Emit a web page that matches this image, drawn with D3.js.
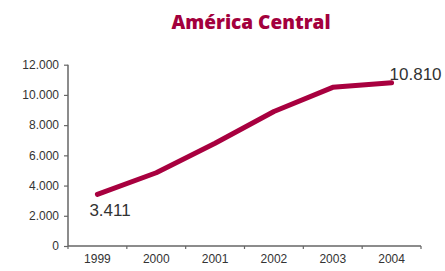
<!DOCTYPE html>
<html><head><meta charset="utf-8">
<script src="https://cdn.jsdelivr.net/npm/d3@7"></script>
<style>body{margin:0;background:#fff}svg{display:block}</style>
</head><body>
<script>
const title = "América Central";
const years = ["1999","2000","2001","2002","2003","2004"];
const values = [3411, 4850, 6800, 8900, 10500, 10810];
const yTicks = [0, 2000, 4000, 6000, 8000, 10000, 12000];

const W = 445, H = 271;
const m = {left: 68, right: 24, top: 64.7, bottom: 25};
const svg = d3.select("body").append("svg").attr("width", W).attr("height", H);
const x = d3.scaleBand().domain(years).range([m.left, W - m.right]);
const y = d3.scaleLinear().domain([0, 12000]).range([H - m.bottom, m.top]);
const fmt = v => d3.format(",")(v).replace(/,/g, ".");
const font = "'Liberation Sans', Arial, sans-serif";

svg.append("text").attr("x", 251).attr("y", 29).attr("text-anchor", "middle")
  .attr("font-family", "'Open Sans', sans-serif").attr("font-weight", 800).attr("font-size", 19)
  .attr("fill", "#A3003D").text(title);

const gy = svg.append("g").attr("transform", `translate(${m.left},0)`)
  .call(d3.axisLeft(y).tickValues(yTicks).tickFormat(fmt).tickSize(4).tickPadding(5));
const gx = svg.append("g").attr("transform", `translate(0,${H - m.bottom})`)
  .call(d3.axisBottom(x).tickSize(0).tickPadding(8));
gx.selectAll(".bnd").data(years.concat(["end"])).enter().append("line")
  .attr("x1", (d, i) => m.left + i * x.step()).attr("x2", (d, i) => m.left + i * x.step())
  .attr("y1", 0).attr("y2", 3).attr("stroke", "#666").attr("stroke-width", 1.2);
[gx, gy].forEach(g => {
  g.select(".domain").attr("stroke", "#666").attr("stroke-width", 1.5);
  g.selectAll(".tick line").attr("stroke", "#666").attr("stroke-width", 1.2);
  g.selectAll("text").attr("font-family", font).attr("font-size", 12).attr("fill", "#333");
});
gy.select(".domain").attr("d", `M0,${y(12000)}V${y(0)}`);
gx.select(".domain").attr("d", `M${m.left},0H${W - m.right}`);

const line = d3.line().x((d, i) => x(years[i]) + x.bandwidth() / 2).y(d => y(d));
svg.append("path").datum(values).attr("d", line).attr("fill", "none")
  .attr("stroke", "#A8003F").attr("stroke-width", 5).attr("stroke-linecap", "round").attr("stroke-linejoin", "round");

svg.append("text").attr("x", x(years[0]) + x.bandwidth() / 2 - 8).attr("y", 216)
  .attr("font-family", font).attr("font-size", 17).attr("fill", "#333").text(fmt(values[0]));
svg.append("text").attr("x", x(years[5]) + x.bandwidth() / 2 - 2).attr("y", 80)
  .attr("font-family", font).attr("font-size", 17).attr("fill", "#333").text(fmt(values[5]));
</script>
</body></html>
